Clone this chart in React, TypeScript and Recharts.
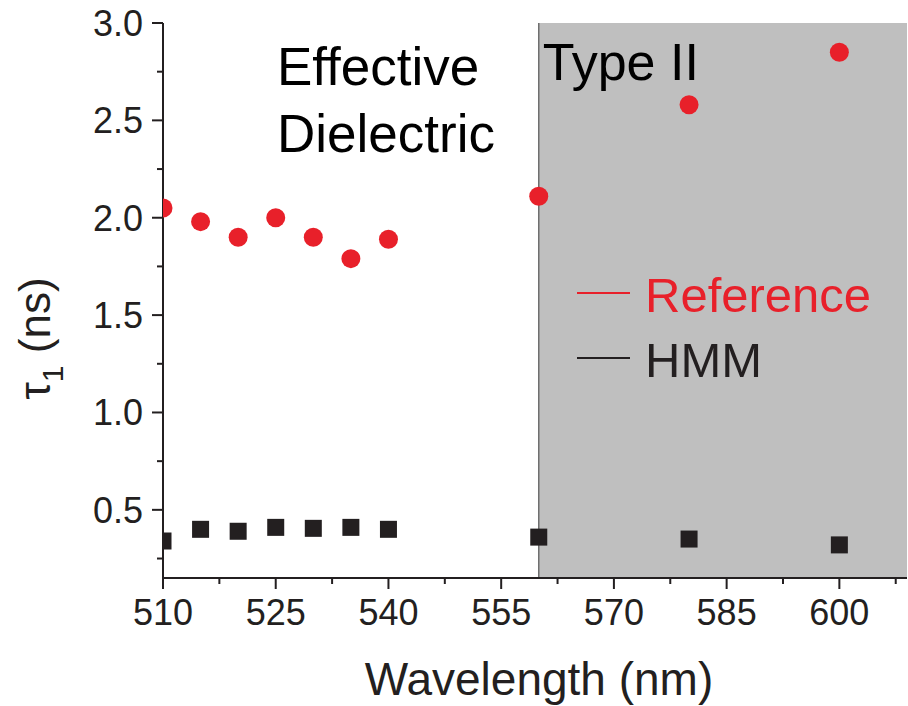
import React from 'react';
import {
  ScatterChart,
  Scatter,
  XAxis,
  YAxis,
  ReferenceArea,
  ReferenceLine,
  Legend,
} from 'recharts';

// Measured lifetimes (ns) versus emission wavelength (nm)
const wavelengths = [510, 515, 520, 525, 530, 535, 540, 560, 580, 600];
const referenceTau = [2.05, 1.98, 1.9, 2.0, 1.9, 1.79, 1.89, 2.11, 2.58, 2.85];
const hmmTau = [0.34, 0.4, 0.39, 0.41, 0.405, 0.41, 0.4, 0.36, 0.35, 0.32];
const seriesNames = ['Reference', 'HMM'];

// Axis ticks (majors are labelled, the rest are minor)
const xMajorTicks = [510, 525, 540, 555, 570, 585, 600];
const xMinorTicks = [517.5, 532.5, 547.5, 562.5, 577.5, 592.5, 607.5];
const yMajorTicks = [0.5, 1.0, 1.5, 2.0, 2.5, 3.0];
const yMinorTicks = [0.25, 0.75, 1.25, 1.75, 2.25, 2.75];

const xDomain: [number, number] = [510, 609];
const yDomain: [number, number] = [0.15, 3.0];
const typeIIStart = 560;

const referenceData = wavelengths.map((w, i) => ({ wavelength: w, tau: referenceTau[i] }));
const hmmData = wavelengths.map((w, i) => ({ wavelength: w, tau: hmmTau[i] }));

const xTicks = [...xMajorTicks, ...xMinorTicks].sort((a, b) => a - b);
const yTicks = [...yMajorTicks, ...yMinorTicks].sort((a, b) => a - b);

const FONT = '"Liberation Sans", Arial, Helvetica, sans-serif';
const INK = '#231f20';
const RED = '#e8202a';
const MAJOR = 11;
const MINOR = 6;
const CLIP_ID = 'plot-area-clip';

const isMajorX = (v: number) => xMajorTicks.includes(v);
const isMajorY = (v: number) => yMajorTicks.includes(v);

const BottomTick = (props: any) => {
  const { x, y, payload } = props;
  const v = payload.value;
  const major = isMajorX(v);
  return (
    <g>
      <line x1={x} x2={x} y1={y} y2={y + (major ? MAJOR : MINOR)} stroke={INK} strokeWidth={2} />
      {major && (
        <text x={x} y={y + 47} textAnchor="middle" fontFamily={FONT} fontSize={36} fill={INK}>
          {v}
        </text>
      )}
    </g>
  );
};

const TopTick = (props: any) => {
  const { x, y, payload } = props;
  const major = isMajorX(payload.value);
  return <line x1={x} x2={x} y1={y} y2={y + (major ? MAJOR : MINOR)} stroke={INK} strokeWidth={2} />;
};

const LeftTick = (props: any) => {
  const { x, y, payload } = props;
  const v = payload.value;
  const major = isMajorY(v);
  return (
    <g>
      <line x1={x - (major ? MAJOR : MINOR)} x2={x} y1={y} y2={y} stroke={INK} strokeWidth={2} />
      {major && (
        <text x={x - 20} y={y + 13} textAnchor="end" fontFamily={FONT} fontSize={36} fill={INK}>
          {v.toFixed(1)}
        </text>
      )}
    </g>
  );
};

const RightTick = (props: any) => {
  const { x, y, payload } = props;
  const major = isMajorY(payload.value);
  return <line x1={x - (major ? MAJOR : MINOR)} x2={x} y1={y} y2={y} stroke={INK} strokeWidth={2} />;
};

const CircleMark = (props: any) => (
  <circle cx={props.cx} cy={props.cy} r={9.5} fill={RED} clipPath={`url(#${CLIP_ID})`} />
);
const SquareMark = (props: any) => (
  <rect
    x={props.cx - 8.5}
    y={props.cy - 8.5}
    width={17}
    height={17}
    fill={INK}
    clipPath={`url(#${CLIP_ID})`}
  />
);

const XTitle = (props: any) => {
  const vb = props.viewBox;
  return (
    <text x={vb.x + vb.width / 2 + 4} y={695} textAnchor="middle" fontFamily={FONT} fontSize={46} fill={INK}>
      Wavelength (nm)
    </text>
  );
};

const YTitle = (props: any) => {
  const vb = props.viewBox;
  const cx = 50;
  const cy = vb.y + vb.height / 2 + 38;
  return (
    <text
      x={cx}
      y={cy}
      textAnchor="middle"
      fontFamily={FONT}
      fontSize={44}
      fill={INK}
      transform={`rotate(-90, ${cx}, ${cy})`}
    >
      τ
      <tspan fontSize={30} dy={13}>1</tspan>
      <tspan dy={-13}> (ns)</tspan>
    </text>
  );
};

// Left region label; also defines the plot-area clip used by the markers
const DielectricLabel = (props: any) => {
  const vb = props.viewBox;
  const x = vb.x + 114;
  return (
    <g>
      <defs>
        <clipPath id={CLIP_ID}>
          <rect x={vb.x} y={vb.y} width={4000} height={vb.height} />
        </clipPath>
      </defs>
      <text x={x} y={vb.y + 62} fontFamily={FONT} fontSize={53} fill="#000">
        <tspan x={x}>Effective</tspan>
        <tspan x={x} dy={67}>Dielectric</tspan>
      </text>
    </g>
  );
};

const TypeIILabel = (props: any) => {
  const vb = props.viewBox;
  return (
    <text x={vb.x + 4} y={vb.y + 57} fontFamily={FONT} fontSize={52} fill="#000">
      Type II
    </text>
  );
};

const LegendBox = (props: any) => {
  const items = [...(props.payload || [])].sort(
    (a: any, b: any) => seriesNames.indexOf(a.value) - seriesNames.indexOf(b.value)
  );
  return (
    <svg width={330} height={130} style={{ display: 'block' }}>
      {items.map((it: any, i: number) => {
        const lineY = 33 + i * 65;
        const color = it.color || (i === 0 ? RED : INK);
        return (
          <g key={it.value}>
            <line x1={7} x2={60} y1={lineY} y2={lineY} stroke={color} strokeWidth={2} />
            <text x={75} y={lineY + 19} fontFamily={FONT} fontSize={49} fill={color}>
              {it.value}
            </text>
          </g>
        );
      })}
    </svg>
  );
};

export default function App() {
  return (
    <div style={{ position: 'absolute', left: 0, top: 0, width: 908, height: 706, background: '#fff' }}>
      <ScatterChart width={908} height={706} margin={{ top: 23, right: 1, bottom: 0, left: 0 }}>
        <ReferenceArea
          x1={xDomain[0]}
          x2={typeIIStart}
          fill="none"
          fillOpacity={0}
          stroke="none"
          ifOverflow="hidden"
          label={{ content: DielectricLabel }}
        />
        <ReferenceArea
          x1={typeIIStart}
          x2={xDomain[1]}
          fill="#bfbfbf"
          fillOpacity={1}
          stroke="none"
          ifOverflow="hidden"
          label={{ content: TypeIILabel }}
        />
        <ReferenceLine x={typeIIStart} stroke="#6f6f6f" strokeWidth={1.5} />
        <XAxis
          type="number"
          dataKey="wavelength"
          domain={xDomain}
          ticks={xTicks}
          interval={0}
          allowDataOverflow
          height={128}
          tickSize={0}
          tickMargin={0}
          tickLine={false}
          axisLine={{ stroke: INK, strokeWidth: 2 }}
          tick={<BottomTick />}
          label={{ content: XTitle }}
        />
        <XAxis
          xAxisId="top"
          orientation="top"
          type="number"
          dataKey="wavelength"
          domain={xDomain}
          ticks={xTicks}
          interval={0}
          allowDataOverflow
          height={0}
          tickSize={0}
          tickMargin={0}
          tickLine={false}
          axisLine={{ stroke: INK, strokeWidth: 2 }}
          tick={<TopTick />}
        />
        <YAxis
          type="number"
          dataKey="tau"
          domain={yDomain}
          ticks={yTicks}
          interval={0}
          allowDataOverflow
          width={163}
          tickSize={0}
          tickMargin={0}
          tickLine={false}
          axisLine={{ stroke: INK, strokeWidth: 2 }}
          tick={<LeftTick />}
          label={{ content: YTitle }}
        />
        <YAxis
          yAxisId="right"
          orientation="right"
          type="number"
          dataKey="tau"
          domain={yDomain}
          ticks={yTicks}
          interval={0}
          allowDataOverflow
          width={0}
          tickSize={0}
          tickMargin={0}
          tickLine={false}
          axisLine={{ stroke: INK, strokeWidth: 2 }}
          tick={<RightTick />}
        />
        <Legend
          layout="vertical"
          align="center"
          verticalAlign="middle"
          content={<LegendBox />}
          wrapperStyle={{ position: 'absolute', left: 570, top: 260, width: 330, height: 130 }}
        />
        <Scatter
          name="Reference"
          data={referenceData}
          fill={RED}
          shape={CircleMark}
          isAnimationActive={false}
        />
        <Scatter
          name="HMM"
          data={hmmData}
          fill={INK}
          shape={SquareMark}
          isAnimationActive={false}
        />
      </ScatterChart>
    </div>
  );
}
